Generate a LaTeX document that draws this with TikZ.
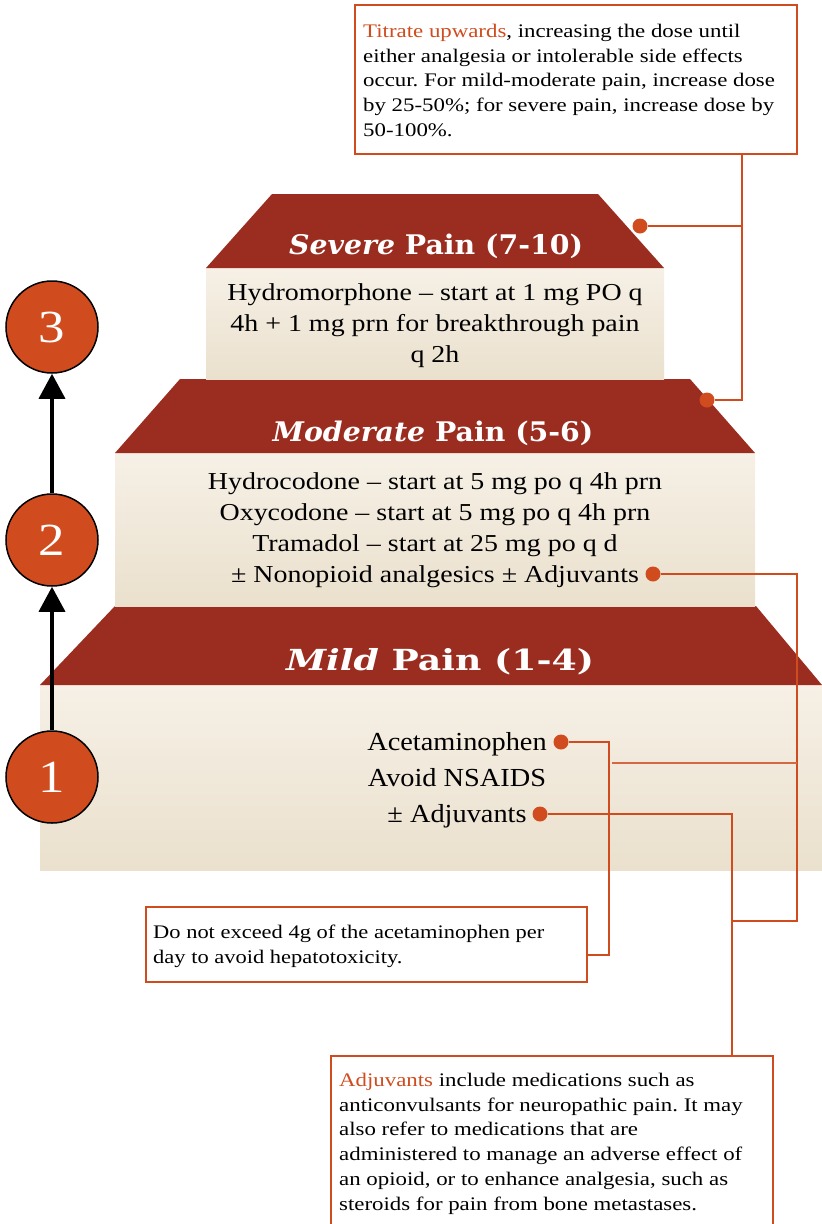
\documentclass[tikz,border=0pt]{standalone}
\usepackage{fontspec}
\setmainfont{Liberation Serif}[FakeStretch=1.15]
\newfontfamily\condfont{Liberation Serif}[FakeStretch=1.09]
\newfontfamily\notefont{Liberation Serif}[FakeStretch=1.19]
\newfontfamily\acetfont{Liberation Serif}[FakeStretch=1.17]
\newfontfamily\titlefont{DejaVu Serif}[FakeStretch=1.05]
\newfontfamily\mildtitlefont{DejaVu Serif}[FakeStretch=1.25]
\usetikzlibrary{arrows.meta}
\definecolor{accent}{RGB}{208,76,30}
\definecolor{roofred}{RGB}{155,45,32}
\definecolor{bodytop}{RGB}{246,240,230}
\definecolor{bodybot}{RGB}{234,224,205}
\tikzset{
  roofshape/.style={fill=roofred, draw=none},
  tierbody/.style={top color=bodytop, bottom color=bodybot, draw=none},
  tiertitle/.style={text=white, font=\titlefont\bfseries\fontsize{27}{27}\selectfont, inner sep=0},
  tiertext/.style={align=center, inner sep=0, font=\fontsize{24.3}{31}\selectfont},
  notebox/.style={draw=accent, line width=2pt, fill=white, inner sep=0, anchor=north west},
  notetext/.style={align=left, inner sep=0, anchor=north west, font=\notefont\fontsize{19.2}{24.7}\selectfont},
  pindot/.style={circle, fill=accent, inner sep=0, minimum size=15pt},
  conn/.style={draw=accent, line width=2pt},
  lvlcircle/.style={circle, draw=black, line width=1.5pt, fill=accent, text=white, minimum size=92pt, inner sep=0, font=\fontsize{46}{46}\selectfont},
  uparrow/.style={draw=black, line width=3.5pt, -{Triangle[length=25pt,width=26pt]}},
}
\begin{document}
\frenchspacing
\begin{tikzpicture}[x=1pt,y=-1pt]
\useasboundingbox (0,0) rectangle (822,1224);
\clip (0,0) rectangle (822,1224);
% mild tier
\shade[tierbody] (40,685) rectangle (840,870);
\fill[roofshape] (115,606) -- (756,606) -- (822,685) -- (40,685) -- cycle;
% moderate tier
\shade[tierbody] (115,453) rectangle (755,606);
\fill[roofshape] (180,379) -- (690,379) -- (755,453) -- (115,453) -- cycle;
% severe tier
\shade[tierbody] (206,268) rectangle (664,379);
\fill[roofshape] (272,194) -- (598,194) -- (664,268) -- (206,268) -- cycle;

% titles
\node[tiertitle] (sevtitle) at (436,246) {{\itshape Severe} Pain (7-10)};
\node[tiertitle] (modtitle) at (433,433) {{\itshape Moderate} Pain (5-6)};
\node[tiertitle, font=\mildtitlefont\bfseries\fontsize{29}{29}\selectfont] (mildtitle) at (440,662) {{\itshape Mild} Pain (1-4)};

% tier texts
\node[tiertext] (sevtext) at (435,326) {Hydromorphone – start at 1 mg PO q\\4h + 1 mg prn for breakthrough pain\\q 2h};
\node[tiertext] (modtext) at (435,530.5) {Hydrocodone – start at 5 mg po q 4h prn\\Oxycodone – start at 5 mg po q 4h prn\\Tramadol – start at 25 mg po q d\\± Nonopioid analgesics ± Adjuvants};
\node[tiertext, font=\condfont\fontsize{26}{36}\selectfont] (mildtext) at (457,780.5) {Acetaminophen\\Avoid NSAIDS\\± Adjuvants};

% dots
\node[pindot] (dotsev) at (640,226) {};
\node[pindot] (dotmodroof) at (707,400) {};
\node[pindot] (dotmod) at (653,574) {};
\node[pindot] (dotacet) at (561,742) {};
\node[pindot] (dotadj) at (540,814) {};

% note boxes
\node[notebox, minimum width=442pt, minimum height=149pt] (titratebox) at (354,4) {};
\node[notetext] (titratetext) at (363,24) {\textcolor{accent}{Titrate upwards}, increasing the dose until\\either analgesia or intolerable side effects\\occur. For mild-moderate pain, increase dose\\by 25-50\%; for severe pain, increase dose by\\50-100\%.};

\node[notebox, minimum width=441pt, minimum height=75pt] (acetbox) at (145,906) {};
\node[notetext, font=\acetfont\fontsize{19.2}{24.7}\selectfont] (acettext) at (153,925) {Do not exceed 4g of the acetaminophen per\\day to avoid hepatotoxicity.};

\node[notebox, minimum width=442pt, minimum height=200pt] (adjbox) at (330,1055) {};
\node[notetext] (adjtext) at (339,1073) {\textcolor{accent}{Adjuvants} include medications such as\\anticonvulsants for neuropathic pain. It may\\also refer to medications that are\\administered to manage an adverse effect of\\an opioid, or to enhance analgesia, such as\\steroids for pain from bone metastases.};

% connectors
\coordinate (tB) at (742,226);
\coordinate (tC) at (742,400);
\draw[conn] (titratebox.south -| tC) -- (tC) -- (dotmodroof);
\draw[conn] (tB) -- (dotsev);

\coordinate (mR) at (797,921);
\coordinate (mJ) at (732,921);
\draw[conn] (dotmod) -| (mR) -- (mJ);
\coordinate (xL) at (612,763);
\coordinate (xR) at (797,763);
\draw[conn, line width=1.5pt, draw=accent!85] (xL) -- (xR);

\draw[conn] (dotadj) -| (adjbox.north -| mJ);
\coordinate (aC) at (609,955);
\draw[conn] (dotacet) -| (aC) -- (acetbox.east |- aC);

% levels
\node[lvlcircle] (lvl3) at (52,327) {3};
\node[lvlcircle] (lvl2) at (52,540) {2};
\node[lvlcircle] (lvl1) at (52,777) {1};
\draw[uparrow] (lvl1) -- (lvl2);
\draw[uparrow] (lvl2) -- (lvl3);
\end{tikzpicture}
\end{document}
